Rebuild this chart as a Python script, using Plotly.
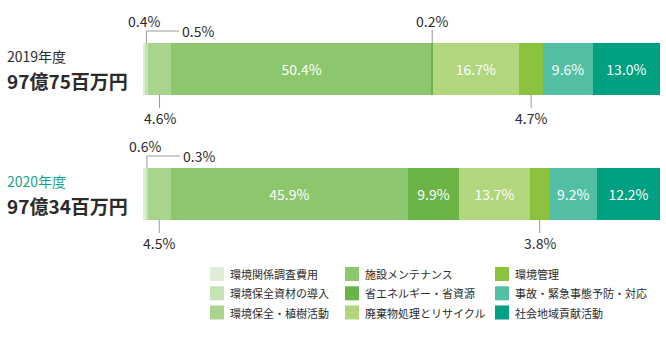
import plotly.graph_objects as go

# Environmental expenditure breakdown (share of total, %)
categories = [
    "環境関係調査費用",
    "環境保全資材の導入",
    "環境保全・植樹活動",
    "施設メンテナンス",
    "省エネルギー・省資源",
    "廃棄物処理とリサイクル",
    "環境管理",
    "事故・緊急事態予防・対応",
    "社会地域貢献活動",
]
values_2019 = [0.4, 0.5, 4.6, 50.4, 0.2, 16.7, 4.7, 9.6, 13.0]
values_2020 = [0.6, 0.3, 4.5, 45.9, 9.9, 13.7, 3.8, 9.2, 12.2]
year_labels = ["2019年度", "2020年度"]
total_labels = ["97億75百万円", "97億34百万円"]

colors = ["#deeed6", "#c6e3b4", "#a8d48e", "#8cc66d", "#6ab446",
          "#b2d67d", "#8dc23e", "#52bfa5", "#00a182"]

FONT = "Noto Sans CJK JP"
TEXT = "#2b2b2b"
LINE = "#9a9a9a"

# where a segment too narrow for an inside label gets its callout
callout_side = {0: "above", 1: "right", 2: "below", 4: "above", 6: "below"}
INSIDE_MIN = 9.0

W_PX, H_PX = 666, 337
L, R = 143, 6
BAR_Y0 = 69          # pixel centre of first bar
ROW_PX = 125         # pixel distance between bar centres
BAR_PX = 52

series = [values_2019, values_2020]
x_max = max(sum(v) for v in series)

y_top = -BAR_Y0 / ROW_PX
y_bot = (H_PX - BAR_Y0) / ROW_PX
half = BAR_PX / 2 / ROW_PX

fig = go.Figure()
for i, cat in enumerate(categories):
    vals = [s[i] for s in series]
    fig.add_trace(go.Bar(
        y=[0, 1], x=vals, orientation="h", name=cat,
        marker=dict(color=colors[i], line=dict(width=0)),
        width=2 * half,
        text=[f"{v:.1f}%" if v >= INSIDE_MIN else "" for v in vals],
        textposition="inside", insidetextanchor="middle", textangle=0,
        constraintext="none",
        textfont=dict(family=FONT, size=14, color="white"),
        showlegend=False, hoverinfo="skip",
    ))

shapes, annotations = [], []


def vline(x, y, dy0, dy1, dx1=0):
    shapes.append(dict(type="line", xref="x", yref="y",
                       xsizemode="pixel", ysizemode="pixel",
                       xanchor=x, yanchor=y, x0=0, x1=dx1, y0=dy0, y1=dy1,
                       line=dict(color=LINE, width=1)))


for row, vals in enumerate(series):
    top, bottom = row - half, row + half
    start = 0.0
    for i, v in enumerate(vals):
        mid = start + v / 2
        start += v
        if v >= INSIDE_MIN or i not in callout_side:
            continue
        label = f"{v:.1f}%"
        side = callout_side[i]
        if side == "above":
            if i != 0:
                vline(mid, top, 0, 13)
            annotations.append(dict(x=mid, y=top, xref="x", yref="y", text=label,
                                    showarrow=False, yshift=22, xanchor="center",
                                    yanchor="middle"))
        elif side == "right":
            vline(mid, top, 0, 12)
            vline(mid, top, 12, 12, dx1=33)
            annotations.append(dict(x=mid, y=top, xref="x", yref="y", text=label,
                                    showarrow=False, yshift=12, xshift=34,
                                    xanchor="left", yanchor="middle"))
        else:
            vline(mid, bottom, 0, -13)
            annotations.append(dict(x=mid, y=bottom, xref="x", yref="y", text=label,
                                    showarrow=False, yshift=-23, xanchor="center",
                                    yanchor="middle"))

# year / total captions on the left
for row in range(2):
    annotations.append(dict(x=0, y=row, xref="paper", yref="y", xshift=-138,
                            yshift=13, xanchor="left", yanchor="middle",
                            text=year_labels[row], showarrow=False,
                            font=dict(size=14, color=TEXT if row == 0 else "#16a587")))
    annotations.append(dict(x=0, y=row, xref="paper", yref="y", xshift=-138,
                            yshift=-11, xanchor="left", yanchor="middle",
                            text=total_labels[row], showarrow=False,
                            font=dict(size=19, color=TEXT, weight="bold")))

# three-column key below the bars
col_px = [210, 345, 495]
row_px = [274, 293.3, 312.5]
SW = 14
for i, cat in enumerate(categories):
    c, r = divmod(i, 3)
    px, py = col_px[c], row_px[r]
    shapes.append(dict(type="rect", xref="paper", yref="paper",
                       x0=(px - L) / (W_PX - L - R), x1=(px + SW - L) / (W_PX - L - R),
                       y0=1 - (py + SW / 2) / H_PX, y1=1 - (py - SW / 2) / H_PX,
                       fillcolor=colors[i], line=dict(width=0)))
    annotations.append(dict(x=(px + SW + 4 - L) / (W_PX - L - R), y=1 - py / H_PX,
                            xref="paper", yref="paper", xanchor="left",
                            yanchor="middle", text=cat, showarrow=False,
                            font=dict(size=11, color=TEXT)))

fig.update_layout(
    barmode="stack",
    width=W_PX, height=H_PX,
    margin=dict(l=L, r=R, t=0, b=0),
    paper_bgcolor="white", plot_bgcolor="white",
    font=dict(family=FONT, size=14, color=TEXT),
    xaxis=dict(range=[0, x_max], visible=False, fixedrange=True),
    yaxis=dict(range=[y_bot, y_top], visible=False, fixedrange=True),
    shapes=shapes, annotations=annotations,
    showlegend=False,
)

fig.write_html("out.html", config={"displayModeBar": False})
